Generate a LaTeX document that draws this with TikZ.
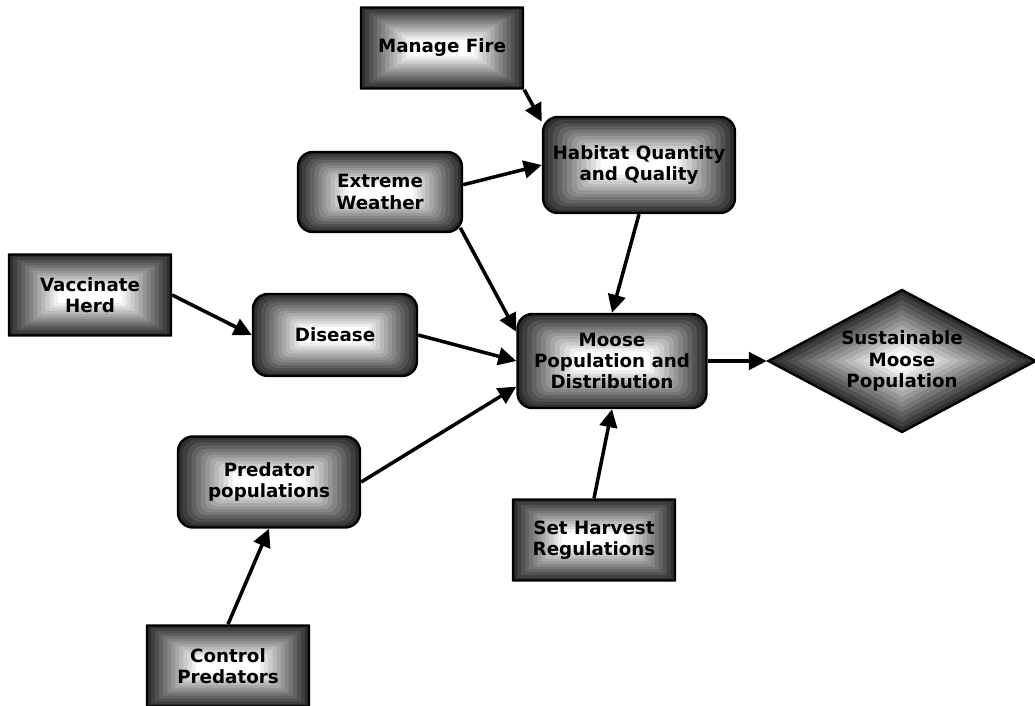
\documentclass[tikz,border=0pt]{standalone}
\usepackage{fontspec}
\setmainfont{DejaVu Sans}
\usetikzlibrary{arrows.meta,calc,shapes.geometric}

\tikzset{
  band box/.style={draw=black, line width=1.4pt, rounded corners=#1pt,
    path picture={
      \foreach \k in {0,...,12}{
        \pgfmathsetmacro{\bandt}{0.8*\k/12}
        \pgfmathsetmacro{\bandg}{82-82*\k/12}
        \pgfmathsetmacro{\bandr}{#1*(1-\k/13)}
        \fill[black!\bandg, rounded corners=\bandr pt]
          let \p1=(path picture bounding box.south west),
              \p2=(path picture bounding box.north east),
              \n1={\bandt*((\y2-\y1)/4+(\x2-\x1)/4)},
              \n2={\bandt*(\y2-\y1)/2} in
          ($(\p1)+(\n1,\n2)$) rectangle ($(\p2)-(\n1,\n2)$);
      }}},
  band diamond/.style={diamond, shape aspect=1.87, draw=black, line width=1.4pt,
    path picture={
      \foreach \k in {0,...,12}{
        \pgfmathsetmacro{\bandf}{1-0.85*\k/12}
        \pgfmathsetmacro{\bandg}{82-82*\k/12}
        \fill[black!\bandg]
          ($(path picture bounding box.center)!\bandf!(path picture bounding box.west)$) --
          ($(path picture bounding box.center)!\bandf!(path picture bounding box.north)$) --
          ($(path picture bounding box.center)!\bandf!(path picture bounding box.east)$) --
          ($(path picture bounding box.center)!\bandf!(path picture bounding box.south)$) -- cycle;
      }}},
  action/.style={band box=0.01, minimum width=3.24cm, minimum height=1.62cm},
  factor/.style={band box=8.5},
  goal/.style={band diamond, minimum width=5.36cm, minimum height=2.86cm},
  link/.style={line width=2pt, -{Triangle[length=0.36cm,width=0.35cm]}}
}

\begin{document}
\begin{tikzpicture}[x=0.02cm,y=-0.02cm]
\tikzstyle{every node}+=[inner sep=0pt, align=center, font=\fontsize{10.4}{12}\selectfont\bfseries]
\useasboundingbox (0,0) rectangle (1035,706);
\node[action] (fire) at (442,48) {Manage Fire};
\node[factor, minimum width=3.84cm, minimum height=1.92cm] (habitat) at (639,165) {Habitat Quantity\\and Quality};
\node[factor, minimum width=3.28cm, minimum height=1.6cm] (weather) at (380,192) {Extreme\\Weather};
\node[action] (vaccinate) at (90,295) {Vaccinate\\Herd};
\node[factor, minimum width=3.28cm, minimum height=1.64cm] (disease) at (335,335) {Disease};
\node[factor, minimum width=3.78cm, minimum height=1.88cm] (moose) at (612,361) {Moose\\Population and\\Distribution};
\node[goal] (sustain) at (902,361) {Sustainable\\Moose\\Population};
\node[factor, minimum width=3.64cm, minimum height=1.82cm] (predator) at (269,482) {Predator\\populations};
\node[action] (harvest) at (594,540) {Set Harvest\\Regulations};
\node[action] (control) at (228,666) {Control\\Predators};
\draw[link] (fire.south east) -- (habitat.156);
\draw[link] (weather.5) -- (habitat.west);
\draw[link, shorten <=-3.5pt] (weather.south east) -- (moose.163);
\draw[link] (habitat.south) -- (moose.north);
\draw[link] (vaccinate.east) -- (disease.west);
\draw[link] (disease.east) -- (moose.west);
\draw[link] (predator.east) -- (moose.195);
\draw[link] (control.north) -- (predator.south);
\draw[link] (harvest.north) -- (moose.south);
\draw[link] (moose.east) -- (sustain.west);
\end{tikzpicture}
\end{document}
